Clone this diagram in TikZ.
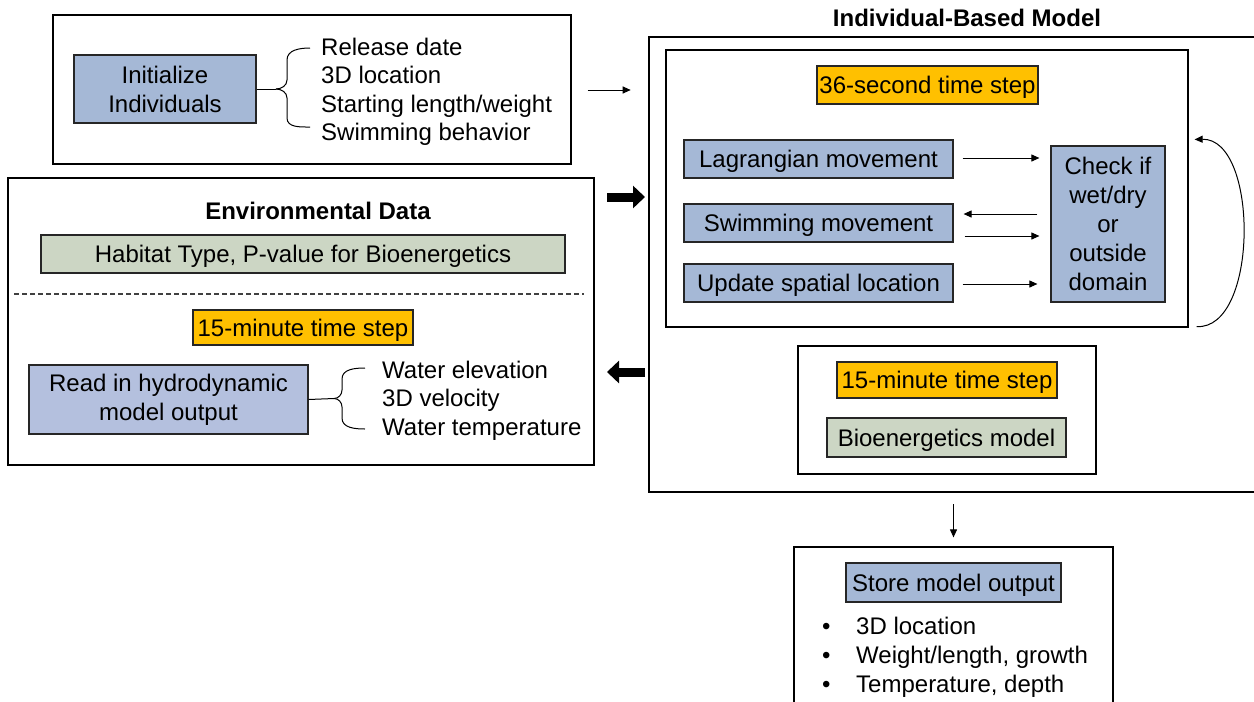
\documentclass[tikz,border=0pt]{standalone}
\usepackage{fontspec}
\setmainfont{Liberation Sans}
\usetikzlibrary{arrows.meta,calc}
\definecolor{boxblue}{RGB}{165,184,214}
\definecolor{boxlav}{RGB}{180,192,222}
\definecolor{boxgreen}{RGB}{204,214,196}
\definecolor{stepgold}{RGB}{255,192,0}
\begin{document}
\begin{tikzpicture}[x=1pt,y=-1pt,
  every node/.style={font=\fontsize{24}{29}\selectfont, inner sep=0pt},
  rect/.style 2 args={minimum width=#1pt, minimum height=#2pt},
  oneline/.style={text height=19pt, text depth=2pt},
  frame/.style={draw=black, line width=1.4pt},
  cell/.style={draw=black!85, line width=1.2pt},
  bluecell/.style={cell, fill=boxblue},
  lavcell/.style={cell, fill=boxlav},
  greencell/.style={cell, fill=boxgreen, oneline},
  goldcell/.style={cell, fill=stepgold, oneline},
  item/.style={anchor=west, oneline},
  title/.style={font=\fontsize{24}{29}\selectfont\bfseries, oneline},
  arr/.style={draw=black, line width=1pt, -{Triangle[length=8pt,width=7pt]}},
  fat/.style={draw=black, line width=9pt, -{Triangle[length=12pt,width=22pt]}}
]
\clip (0,0) rectangle (1254,702);
\fill[white] (0,0) rectangle (1254,702);

% --- initialisation of individuals ---
\node[frame, rect={518}{149}] (initframe) at (312,89.5) {};
\node[bluecell, rect={182}{68}, align=center] (init) at (165,89) {Initialize\\Individuals};
\node[item] (rel)   at (321,47)  {Release date};
\node[item] (loc)   at (321,75)  {3D location};
\node[item] (len)   at (321,104) {Starting length/weight};
\node[item] (swimb) at (321,132) {Swimming behavior};
\coordinate (tipA) at (276,89);
\draw[line width=1pt] (310,48) to[out=180,in=90] (287,60) -- (287,80) to[out=-90,in=0] (tipA);
\draw[line width=1pt] (310,127) to[out=180,in=-90] (287,118) -- (287,98) to[out=90,in=0] (tipA);
\draw[line width=1pt] (init.east) -- (tipA);

% --- environmental data ---
\node[frame, rect={586}{287}] (envframe) at (301,321.5) {};
\node[title] (envtitle) at (318,211) {Environmental Data};
\node[greencell, rect={524}{38}] (habitat) at (303,254) {Habitat Type, P-value for Bioenergetics};
\draw[line width=1.1pt, black!75, dash pattern=on 5pt off 3pt] (14,294) -- (584,294);
\node[goldcell, rect={220}{35}] (stepL) at (303,327.5) {15-minute time step};
\node[lavcell, rect={279}{69}, align=center] (hydro) at (168.5,399.5) {Read in hydrodynamic\\model output};
\node[item] (elev)  at (382,370) {Water elevation};
\node[item] (vel)   at (382,398) {3D velocity};
\node[item] (temp)  at (382,427) {Water temperature};
\coordinate (tipB) at (334,398.5);
\draw[line width=1pt] (365,368) to[out=180,in=90] (342,379) -- (342,390) to[out=-90,in=0] (tipB);
\draw[line width=1pt] (365,429) to[out=180,in=-90] (342,418) -- (342,407) to[out=90,in=0] (tipB);
\draw[line width=1pt] (hydro.east) -- (tipB);

% --- individual-based model ---
\node[title] (ibmtitle) at (967,18) {Individual-Based Model};
\node[frame, rect={621}{455}] (ibm) at (959.5,264.5) {};
\node[frame, line width=1.2pt, rect={522}{277}] (inner) at (927,188.5) {};
\node[goldcell, rect={221}{38}] (stepS) at (927.5,85) {36-second time step};
\node[bluecell, oneline, rect={269}{38}] (lagr)   at (818.5,159) {Lagrangian movement};
\node[bluecell, oneline, rect={269}{38}] (swim)   at (818.5,223) {Swimming movement};
\node[bluecell, oneline, rect={269}{38}] (update) at (818.5,283) {Update spatial location};
\node[bluecell, rect={114}{156}, align=center] (check) at (1108,224) {Check if\\wet/dry\\or\\outside\\domain};
\draw[arr] ($(lagr.east)+(9,-1)$) -- ($(check.west |- lagr.east)+(-11,-1)$);
\draw[arr] ($(check.west |- swim.east)+(-13,-9)$) -- ($(swim.east)+(10,-9)$);
\draw[arr] ($(swim.east)+(11,13)$) -- ($(check.west |- swim.east)+(-11,13)$);
\draw[arr] ($(update.east)+(9,1)$) -- ($(check.west |- update.east)+(-13,1)$);
\draw[arr] ($(inner.south east)+(8,-1)$) .. controls (1259,330) and (1259,138) .. ($(inner.north east)+(6,90)$);

\node[frame, line width=1.2pt, rect={298}{128}] (lower) at (947,410) {};
\node[goldcell, rect={220}{36}] (stepR) at (947,380) {15-minute time step};
\node[greencell, rect={239}{39}] (bioen) at (946.5,437.5) {Bioenergetics model};

% --- exchanges between the blocks ---
\coordinate (fatR0) at (607,197);
\coordinate (fatR1) at (645,197);
\coordinate (fatL0) at (645,372);
\coordinate (fatL1) at (607,372);
\draw[fat] (fatR0) -- (fatR1);
\draw[fat] (fatL0) -- (fatL1);
\draw[arr] ($(initframe.east)+(16,0.5)$) -- ($(initframe.east)+(59,0.5)$);

% --- model output ---
\node[frame, line width=1.2pt, rect={319}{173}] (storeframe) at (953.5,633.5) {};
\draw[arr] ($(storeframe.north)+(0,-42)$) -- ($(storeframe.north)+(0,-9)$);
\node[bluecell, oneline, rect={215}{39}] (store) at (953.5,582.5) {Store model output};
\node[item] (b1) at (822,626) {•};
\node[item] (b2) at (822,655) {•};
\node[item] (b3) at (822,684) {•};
\node[item] (o1) at (856,626) {3D location};
\node[item] (o2) at (856,655) {Weight/length, growth};
\node[item] (o3) at (856,684) {Temperature, depth};
\end{tikzpicture}
\end{document}
